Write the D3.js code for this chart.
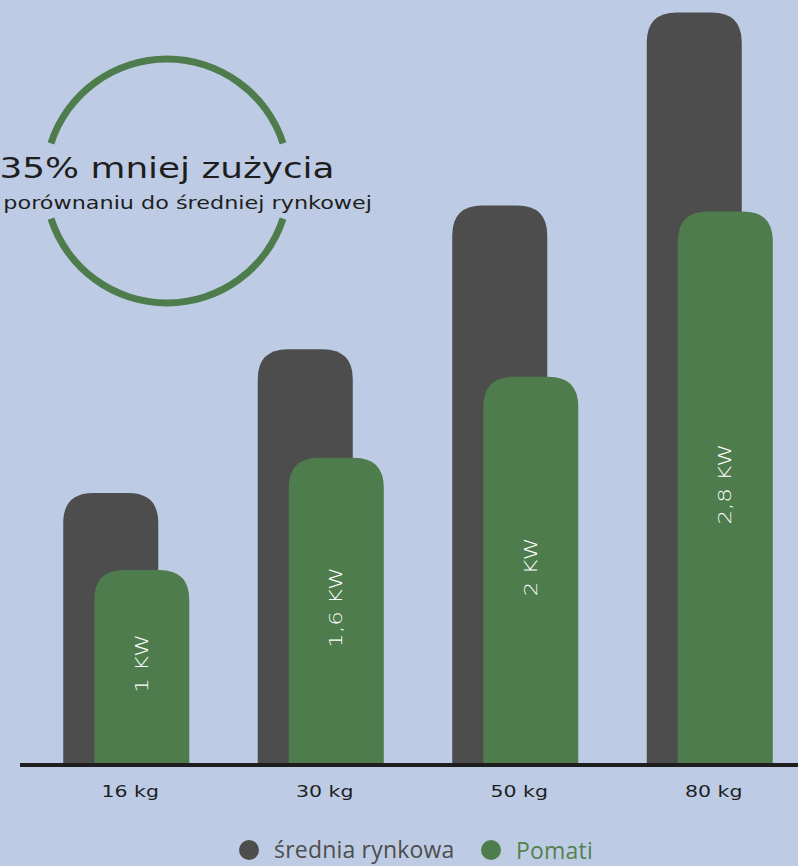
<!DOCTYPE html>
<html>
<head>
<meta charset="utf-8">
<script src="https://cdn.jsdelivr.net/npm/d3@7"></script>
<style>
  html, body { margin: 0; padding: 0; background: #bdcce4; }
  svg { display: block; }
</style>
</head>
<body>
<div id="chart"></div>
<script>
// Data
const categories = ["16 kg", "30 kg", "50 kg", "80 kg"];
const marketValues = [1.37, 2.1, 2.83, 3.81];     // średnia rynkowa
const pomatiValues = [0.98, 1.55, 1.96, 2.8];     // Pomati
const pomatiLabels = ["1 KW", "1,6 KW", "2 KW", "2,8 KW"];
const seriesNames = ["średnia rynkowa", "Pomati"];

const W = 798, H = 866;
const baseline = 763;
const darkColor = "#4d4d4d";
const greenColor = "#4e7c4c";
const squareFont = "'DejaVu Sans', sans-serif";
const roundFont = "'Open Sans', 'Noto Sans', sans-serif";

const svg = d3.select("#chart").append("svg")
  .attr("width", W)
  .attr("height", H);

svg.append("rect")
  .attr("width", W)
  .attr("height", H)
  .attr("fill", "#bdcce4");

const x = d3.scaleBand()
  .domain(categories)
  .range([29, 807])
  .paddingInner(0.352)
  .paddingOuter(0.176);

const y = d3.scaleLinear()
  .domain([0, 3.873])
  .range([baseline, 0]);

const barW = x.bandwidth() * 0.754;
const radius = 30;

// bar with rounded top corners
function topRounded(x0, y0, w, h, r) {
  r = Math.min(r, w / 2, h);
  return `M${x0},${y0 + h}` +
    `V${y0 + r}` +
    `Q${x0},${y0} ${x0 + r},${y0}` +
    `H${x0 + w - r}` +
    `Q${x0 + w},${y0} ${x0 + w},${y0 + r}` +
    `V${y0 + h}Z`;
}

// Market average bars (behind)
svg.append("g").selectAll("path")
  .data(categories)
  .join("path")
  .attr("fill", darkColor)
  .attr("d", (d, i) => topRounded(x(d), y(marketValues[i]), barW, baseline - y(marketValues[i]), radius));

// Pomati bars
svg.append("g").selectAll("path")
  .data(categories)
  .join("path")
  .attr("fill", greenColor)
  .attr("d", (d, i) => topRounded(x(d) + x.bandwidth() - barW, y(pomatiValues[i]), barW, baseline - y(pomatiValues[i]), radius));

// Labels inside the green bars (wide, squarish look -> stretched)
svg.append("g").selectAll("text")
  .data(categories)
  .join("text")
  .attr("transform", (d, i) => {
    const cx = x(d) + x.bandwidth() - barW / 2;
    const cy = (y(pomatiValues[i]) + baseline) / 2 - 3;
    return `translate(${cx},${cy}) rotate(-90) scale(1.35,1)`;
  })
  .attr("text-anchor", "middle")
  .attr("dy", "0.36em")
  .attr("fill", "#ffffff")
  .style("font-family", squareFont)
  .style("font-weight", 300)
  .style("font-size", "17px")
  .text((d, i) => pomatiLabels[i]);

// Baseline
svg.append("line")
  .attr("x1", 20)
  .attr("x2", W)
  .attr("y1", baseline + 2)
  .attr("y2", baseline + 2)
  .attr("stroke", "#1e1e1e")
  .attr("stroke-width", 4);

// Category labels
svg.append("g").selectAll("text")
  .data(categories)
  .join("text")
  .attr("transform", d => `translate(${x(d) + x.bandwidth() / 2 + 4},797) scale(1.28,1)`)
  .attr("text-anchor", "middle")
  .attr("fill", "#1e1e1e")
  .style("font-family", squareFont)
  .style("font-size", "16px")
  .text(d => d);

// Circle badge
const cx = 167, cy = 181;
const arc = d3.arc().innerRadius(118.5).outerRadius(125.5);
const gap = 18 * Math.PI / 180;
const badge = svg.append("g").attr("transform", `translate(${cx},${cy})`);
[[-Math.PI / 2 + gap, Math.PI / 2 - gap], [Math.PI / 2 + gap, 3 * Math.PI / 2 - gap]].forEach(([a0, a1]) => {
  badge.append("path")
    .attr("d", arc({ startAngle: a0, endAngle: a1 }))
    .attr("fill", greenColor);
});

badge.append("text")
  .attr("transform", "translate(0,-3) scale(1.28,1)")
  .attr("text-anchor", "middle")
  .attr("fill", "#1e1e1e")
  .style("font-family", squareFont)
  .style("font-size", "28px")
  .text("35% mniej zużycia");

// subtitle: only the part visible in the frame
badge.append("text")
  .attr("transform", `translate(${372 - cx},28) scale(1.24,1)`)
  .attr("text-anchor", "end")
  .attr("fill", "#1e1e1e")
  .style("font-family", squareFont)
  .style("font-size", "18px")
  .text("porównaniu do średniej rynkowej");

// Legend
const legend = svg.append("g");
const legendItems = [
  { name: seriesNames[0], color: darkColor, cx: 249, tx: 274, ty: 858 },
  { name: seriesNames[1], color: "#55814f", cx: 491, tx: 516, ty: 859 }
];
legendItems.forEach((it, i) => {
  legend.append("circle")
    .attr("cx", it.cx)
    .attr("cy", 850)
    .attr("r", 10)
    .attr("fill", i === 0 ? darkColor : greenColor);
  legend.append("text")
    .attr("x", it.tx)
    .attr("y", it.ty)
    .attr("fill", it.color)
    .style("font-family", roundFont)
    .style("font-size", "23px")
    .style("letter-spacing", "0.2px")
    .text(it.name);
});
</script>
</body>
</html>
